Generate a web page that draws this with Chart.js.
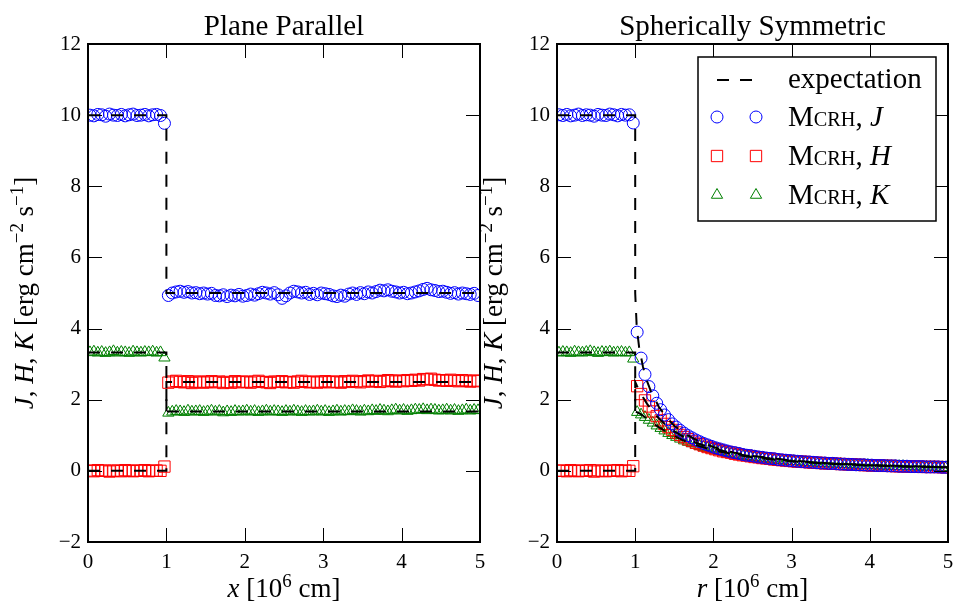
<!DOCTYPE html>
<html><head><meta charset="utf-8">
<script src="https://cdn.jsdelivr.net/npm/chart.js@4/dist/chart.umd.min.js"></script>
<style>
html,body{margin:0;padding:0;background:#fff;}
#wrap{position:relative;width:957px;height:606px;overflow:hidden;background:#fff;}
canvas{position:absolute;top:0;}
</style></head><body>
<div id="wrap">
<canvas id="c1" width="490" height="606" style="left:0px"></canvas>
<canvas id="c2" width="487" height="606" style="left:470px"></canvas>
</div>
<script>
// ---------------- data ----------------
const xTicks = [0, 1, 2, 3, 4, 5];
const xTickLabels = ['0', '1', '2', '3', '4', '5'];
const yTicks = [-2, 0, 2, 4, 6, 8, 10, 12];
const yTickLabels = ['\u22122', '0', '2', '4', '6', '8', '10', '12'];

// cell centres (units of 10^6 cm)
const cellPos = [
 0.025,0.075,0.125,0.175,0.225,0.275,0.325,0.375,0.425,0.475,
 0.525,0.575,0.625,0.675,0.725,0.775,0.825,0.875,0.925,0.975,
 1.025,1.075,1.125,1.175,1.225,1.275,1.325,1.375,1.425,1.475,
 1.525,1.575,1.625,1.675,1.725,1.775,1.825,1.875,1.925,1.975,
 2.025,2.075,2.125,2.175,2.225,2.275,2.325,2.375,2.425,2.475,
 2.525,2.575,2.625,2.675,2.725,2.775,2.825,2.875,2.925,2.975,
 3.025,3.075,3.125,3.175,3.225,3.275,3.325,3.375,3.425,3.475,
 3.525,3.575,3.625,3.675,3.725,3.775,3.825,3.875,3.925,3.975,
 4.025,4.075,4.125,4.175,4.225,4.275,4.325,4.375,4.425,4.475,
 4.525,4.575,4.625,4.675,4.725,4.775,4.825,4.875,4.925,4.975
];

// Plane parallel: MCRH results
const planeJ = [
 10.00,9.98,10.02,10.01,9.97,10.03,10.00,9.99,10.02,9.98,
 10.01,10.03,9.99,10.00,10.02,9.98,10.01,10.02,9.99,9.77,
 4.93,5.00,5.03,5.05,5.02,5.04,5.00,5.01,4.98,5.00,
 4.97,4.99,4.93,4.92,4.95,4.90,4.94,4.92,4.96,4.91,
 4.93,4.97,4.94,4.98,5.02,5.00,4.97,5.01,4.95,4.85,
 4.92,5.00,5.05,5.03,5.00,5.02,4.96,4.99,4.95,5.00,
 4.98,4.96,4.92,4.90,4.94,4.91,4.97,5.00,4.96,5.01,
 4.98,5.03,5.00,5.04,5.08,5.06,5.09,5.05,5.03,5.00,
 5.02,4.98,5.00,5.03,5.06,5.10,5.13,5.09,5.07,5.04,
 5.05,5.02,4.99,5.01,4.97,5.00,4.98,4.96,4.99,4.93
];
const planeH = [
 0.01,-0.01,0.02,0.00,0.01,-0.02,0.00,0.01,-0.01,0.02,
 0.00,-0.01,0.01,0.00,0.02,-0.01,0.00,0.01,0.00,0.12,
 2.48,2.51,2.53,2.50,2.49,2.52,2.47,2.50,2.51,2.48,
 2.50,2.52,2.49,2.51,2.47,2.50,2.48,2.52,2.49,2.51,
 2.50,2.48,2.51,2.53,2.50,2.49,2.47,2.51,2.50,2.52,
 2.49,2.50,2.48,2.51,2.53,2.50,2.49,2.51,2.48,2.50,
 2.52,2.49,2.51,2.50,2.48,2.52,2.50,2.53,2.51,2.49,
 2.52,2.54,2.51,2.53,2.50,2.52,2.55,2.53,2.51,2.54,
 2.52,2.55,2.53,2.56,2.54,2.58,2.57,2.59,2.56,2.54,
 2.55,2.53,2.56,2.54,2.52,2.55,2.53,2.51,2.54,2.52
];
const planeK = [
 3.33,3.35,3.32,3.34,3.31,3.33,3.36,3.32,3.34,3.33,
 3.31,3.35,3.33,3.32,3.34,3.33,3.35,3.32,3.33,3.18,
 1.63,1.66,1.68,1.67,1.65,1.69,1.66,1.67,1.68,1.65,
 1.67,1.69,1.66,1.68,1.64,1.67,1.65,1.68,1.66,1.67,
 1.69,1.66,1.68,1.65,1.67,1.69,1.66,1.68,1.67,1.65,
 1.68,1.66,1.69,1.67,1.65,1.68,1.66,1.67,1.69,1.66,
 1.68,1.65,1.67,1.69,1.66,1.68,1.67,1.70,1.68,1.66,
 1.69,1.67,1.70,1.68,1.71,1.69,1.67,1.70,1.72,1.69,
 1.71,1.68,1.70,1.72,1.71,1.73,1.70,1.72,1.71,1.69,
 1.70,1.72,1.69,1.71,1.68,1.70,1.72,1.69,1.71,1.70
];

// Spherically symmetric: MCRH results
const sphJ = [
 10.01,9.99,10.02,9.98,10.00,10.03,9.99,10.01,10.00,9.97,
 10.02,10.00,9.99,10.03,10.01,9.98,10.02,10.00,10.01,9.78,
 3.90,3.17,2.71,2.37,2.11,1.90,1.72,1.57,1.44,1.32,
 1.23,1.14,1.06,0.99,0.93,0.87,0.82,0.77,0.73,0.69,
 0.65,0.62,0.59,0.56,0.53,0.51,0.49,0.46,0.44,0.43,
 0.41,0.39,0.38,0.36,0.35,0.34,0.32,0.31,0.30,0.29,
 0.28,0.27,0.26,0.25,0.25,0.24,0.23,0.22,0.22,0.21,
 0.21,0.20,0.19,0.19,0.18,0.18,0.17,0.17,0.17,0.16,
 0.16,0.15,0.15,0.15,0.14,0.14,0.14,0.13,0.13,0.13,
 0.12,0.12,0.12,0.12,0.11,0.11,0.11,0.11,0.10,0.10
];
const sphH = [
 0.00,0.01,-0.01,0.02,0.00,-0.01,0.01,0.00,0.02,-0.02,
 0.01,0.00,-0.01,0.01,0.00,0.02,-0.01,0.01,0.00,0.13,
 2.38,2.16,1.98,1.81,1.67,1.54,1.42,1.32,1.23,1.15,
 1.08,1.01,0.95,0.89,0.84,0.79,0.75,0.71,0.67,0.64,
 0.61,0.58,0.55,0.53,0.51,0.48,0.46,0.44,0.43,0.41,
 0.39,0.38,0.36,0.35,0.34,0.32,0.31,0.30,0.29,0.28,
 0.27,0.26,0.26,0.25,0.24,0.23,0.23,0.22,0.21,0.21,
 0.20,0.20,0.19,0.19,0.18,0.18,0.17,0.17,0.16,0.16,
 0.15,0.15,0.15,0.14,0.14,0.14,0.13,0.13,0.13,0.12,
 0.12,0.12,0.12,0.11,0.11,0.11,0.11,0.11,0.10,0.10
];
const sphK = [
 3.32,3.34,3.33,3.31,3.35,3.33,3.32,3.34,3.36,3.33,
 3.31,3.34,3.33,3.35,3.32,3.33,3.34,3.32,3.33,3.15,
 1.65,1.58,1.51,1.43,1.35,1.27,1.20,1.13,1.06,1.00,
 0.95,0.90,0.85,0.81,0.77,0.73,0.69,0.66,0.63,0.60,
 0.57,0.55,0.52,0.50,0.48,0.46,0.44,0.42,0.41,0.39,
 0.38,0.36,0.35,0.34,0.33,0.31,0.30,0.29,0.28,0.27,
 0.27,0.26,0.25,0.24,0.23,0.23,0.22,0.21,0.21,0.20,
 0.20,0.19,0.19,0.18,0.18,0.17,0.17,0.16,0.16,0.16,
 0.15,0.15,0.14,0.14,0.14,0.13,0.13,0.13,0.13,0.12,
 0.12,0.12,0.12,0.11,0.11,0.11,0.11,0.10,0.10,0.10
];

// expectation curves
const planeExpX = [0, 1, 1, 5];
const planeExpJ = [10, 10, 5, 5];
const planeExpH = [0, 0, 2.5, 2.5];
const planeExpK = [3.33, 3.33, 1.67, 1.67];

const sphExpX = [0, 1, 1, 1.02, 1.05, 1.1, 1.15, 1.2, 1.3, 1.4, 1.5, 1.6, 1.8, 2.0, 2.25, 2.5, 3, 3.5, 4, 4.5, 5];
const sphExpJ = [10, 10, 5, 4.02, 3.48, 2.92, 2.53, 2.24, 1.81, 1.50, 1.27, 1.10, 0.84, 0.67, 0.52, 0.42, 0.29, 0.21, 0.16, 0.13, 0.10];
const sphExpH = [0, 0, 2.5, 2.40, 2.27, 2.07, 1.89, 1.74, 1.48, 1.28, 1.11, 0.98, 0.77, 0.63, 0.49, 0.40, 0.28, 0.20, 0.16, 0.12, 0.10];
const sphExpK = [3.33, 3.33, 1.67, 1.65, 1.62, 1.55, 1.47, 1.39, 1.23, 1.10, 0.98, 0.87, 0.71, 0.58, 0.47, 0.38, 0.27, 0.20, 0.15, 0.12, 0.10];

// ---------------- drawing ----------------
const FONT = '"Liberation Serif", "Times New Roman", serif';
const BLUE = '#0000ff', RED = '#ff0000', GREEN = '#008000';

function pts(xs, ys) { return xs.map((x, i) => ({ x: x, y: ys[i] })); }

function segFont(s, size) {
  const fs = (s.sup || s.sc) ? size * 0.7 : size;
  return (s.i ? 'italic ' : '') + fs + 'px ' + FONT;
}
function richWidth(ctx, segs, size) {
  let w = 0;
  segs.forEach(s => { ctx.font = segFont(s, size); w += ctx.measureText(s.t).width; });
  return w;
}
function drawRich(ctx, segs, size) {
  let x = 0;
  segs.forEach(s => {
    ctx.font = segFont(s, size);
    ctx.fillText(s.t, x, s.sup ? -size * 0.38 : 0);
    x += ctx.measureText(s.t).width;
  });
}

function marker(ctx, style, x, y, color) {
  ctx.save();
  ctx.strokeStyle = color; ctx.lineWidth = 1;
  ctx.beginPath();
  if (style === 'circle') {
    ctx.arc(x, y, 6, 0, Math.PI * 2);
  } else if (style === 'rect') {
    const h = 8 * Math.SQRT1_2;
    ctx.rect(x - h, y - h, 2 * h, 2 * h);
  } else {
    const r = 6.5;
    ctx.moveTo(x, y - r);
    ctx.lineTo(x - r * Math.sin(Math.PI / 3), y + r / 2);
    ctx.lineTo(x + r * Math.sin(Math.PI / 3), y + r / 2);
    ctx.closePath();
  }
  ctx.stroke();
  ctx.restore();
}

function drawLegend(ctx, a) {
  const L = a.right - 250, R = a.right - 12, T = 57, B = 221;
  ctx.save();
  ctx.fillStyle = '#fff';
  ctx.fillRect(L, T, R - L, B - T);
  ctx.strokeStyle = '#000'; ctx.lineWidth = 1.5;
  ctx.strokeRect(L, T, R - L, B - T);
  const hx1 = L + 19, hx2 = L + 58, tx = L + 90;
  const rows = [T + 23, T + 60, T + 99, T + 138];
  ctx.strokeStyle = '#000'; ctx.lineWidth = 2; ctx.setLineDash([12, 11]);
  ctx.beginPath(); ctx.moveTo(hx1, rows[0]); ctx.lineTo(hx2, rows[0]); ctx.stroke();
  ctx.setLineDash([]);
  const ms = [['circle', BLUE, 'J'], ['rect', RED, 'H'], ['triangle', GREEN, 'K']];
  ctx.fillStyle = '#000'; ctx.textAlign = 'left'; ctx.textBaseline = 'alphabetic';
  ctx.font = '29px ' + FONT;
  ctx.fillText('expectation', tx, rows[0] + 8);
  ms.forEach((m, i) => {
    const y = rows[i + 1];
    marker(ctx, m[0], hx1, y, m[1]);
    marker(ctx, m[0], hx2, y, m[1]);
    ctx.save();
    ctx.translate(tx, y + 9);
    drawRich(ctx, [{ t: 'M' }, { t: 'CRH', sc: true }, { t: ', ' }, { t: m[2], i: true }], 29);
    ctx.restore();
  });
  ctx.restore();
}

function makeDecor(opts) {
  return {
    id: 'decor',
    afterDraw(chart) {
      const ctx = chart.ctx, a = chart.chartArea, xs = chart.scales.x, ys = chart.scales.y;
      ctx.save();
      ctx.strokeStyle = '#000'; ctx.lineWidth = 1;
      ctx.beginPath();
      xTicks.forEach(v => {
        const p = Math.round(xs.getPixelForValue(v)) + 0.5;
        ctx.moveTo(p, a.bottom); ctx.lineTo(p, a.bottom - 14);
        ctx.moveTo(p, a.top); ctx.lineTo(p, a.top + 14);
      });
      yTicks.forEach(v => {
        const p = Math.round(ys.getPixelForValue(v)) + 0.5;
        ctx.moveTo(a.left, p); ctx.lineTo(a.left + 14, p);
        ctx.moveTo(a.right, p); ctx.lineTo(a.right - 14, p);
      });
      ctx.stroke();
      ctx.lineWidth = 2;
      ctx.strokeRect(a.left, a.top, a.right - a.left, a.bottom - a.top);
      ctx.fillStyle = '#000'; ctx.textBaseline = 'alphabetic';
      ctx.font = '29px ' + FONT; ctx.textAlign = 'center';
      ctx.fillText(opts.title, (a.left + a.right) / 2, 35);
      ctx.textAlign = 'left';
      let w = richWidth(ctx, opts.xLabel, 27);
      ctx.save(); ctx.translate((a.left + a.right) / 2 - w / 2, 597); drawRich(ctx, opts.xLabel, 27); ctx.restore();
      w = richWidth(ctx, opts.yLabel, 27);
      ctx.save(); ctx.translate(a.left - 55, (a.top + a.bottom) / 2 + w / 2); ctx.rotate(-Math.PI / 2); drawRich(ctx, opts.yLabel, 27); ctx.restore();
      if (opts.legend) drawLegend(ctx, a);
      ctx.restore();
    }
  };
}

function buildDatasets(xs, J, H, K, ex, eJ, eH, eK) {
  const dash = { showLine: true, borderColor: '#000', borderWidth: 2, borderDash: [12, 11], pointRadius: 0, pointHoverRadius: 0, fill: false, tension: 0, order: 0 };
  const mk = (style, col, r) => ({ pointStyle: style, pointRadius: r, pointHoverRadius: r, pointBorderColor: col, borderColor: col, pointBackgroundColor: 'rgba(0,0,0,0)', backgroundColor: 'rgba(0,0,0,0)', pointBorderWidth: 1, showLine: false, order: 1 });
  return [
    Object.assign({ label: 'expectation J', data: pts(ex, eJ) }, dash),
    Object.assign({ label: 'expectation H', data: pts(ex, eH) }, dash),
    Object.assign({ label: 'expectation K', data: pts(ex, eK) }, dash),
    Object.assign({ label: 'MCRH J', data: pts(xs, J) }, mk('circle', BLUE, 6)),
    Object.assign({ label: 'MCRH H', data: pts(xs, H) }, mk('rect', RED, 8)),
    Object.assign({ label: 'MCRH K', data: pts(xs, K) }, mk('triangle', GREEN, 6.5))
  ];
}

function buildChart(id, yWidth, padRight, datasets, decor) {
  return new Chart(document.getElementById(id), {
    type: 'scatter',
    data: { datasets: datasets },
    options: {
      responsive: false, animation: false, devicePixelRatio: 1,
      events: [],
      layout: { padding: { top: 44, right: padRight, left: 0, bottom: 0 } },
      plugins: { legend: { display: false }, tooltip: { enabled: false }, title: { display: false } },
      scales: {
        x: {
          type: 'linear', min: 0, max: 5,
          afterBuildTicks: s => { s.ticks = xTicks.map(v => ({ value: v })); },
          afterFit: s => { s.height = 64; s.paddingLeft = 0; s.paddingRight = 0; },
          ticks: { callback: v => xTickLabels[xTicks.indexOf(v)], font: { family: FONT, size: 21 }, color: '#000', padding: 8, maxRotation: 0, autoSkip: false },
          grid: { display: false, drawTicks: false },
          border: { display: false }
        },
        y: {
          type: 'linear', min: -2, max: 12,
          afterBuildTicks: s => { s.ticks = yTicks.map(v => ({ value: v })); },
          afterFit: s => { s.width = yWidth; },
          ticks: { callback: v => yTickLabels[yTicks.indexOf(v)], font: { family: FONT, size: 21 }, color: '#000', padding: 7, autoSkip: false },
          grid: { display: false, drawTicks: false },
          border: { display: false }
        }
      }
    },
    plugins: [decor]
  });
}

const yLab = [{ t: 'J', i: true }, { t: ', ' }, { t: 'H', i: true }, { t: ', ' }, { t: 'K', i: true }, { t: ' [erg cm' }, { t: '\u22122', sup: true }, { t: ' s' }, { t: '\u22121', sup: true }, { t: ']' }];

buildChart('c1', 88, 10,
  buildDatasets(cellPos, planeJ, planeH, planeK, planeExpX, planeExpJ, planeExpH, planeExpK),
  makeDecor({ title: 'Plane Parallel', xLabel: [{ t: 'x', i: true }, { t: ' [10' }, { t: '6', sup: true }, { t: ' cm]' }], yLabel: yLab, legend: false }));

buildChart('c2', 87, 8,
  buildDatasets(cellPos, sphJ, sphH, sphK, sphExpX, sphExpJ, sphExpH, sphExpK),
  makeDecor({ title: 'Spherically Symmetric', xLabel: [{ t: 'r', i: true }, { t: ' [10' }, { t: '6', sup: true }, { t: ' cm]' }], yLabel: yLab, legend: true }));
</script>
</body></html>
